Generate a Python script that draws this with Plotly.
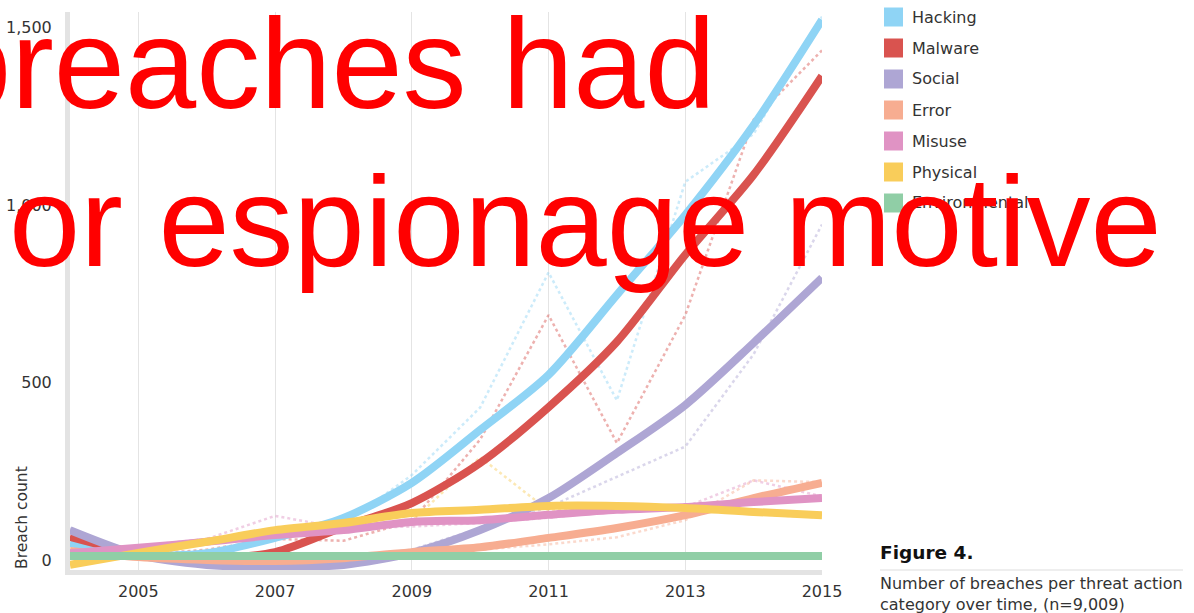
import plotly.graph_objects as go

years = list(range(2004, 2016))
categories = ["Hacking", "Malware", "Social", "Error", "Misuse", "Physical", "Environmental"]
colors = ["#8fd4f5", "#d9534f", "#aea6d4", "#f7ad91", "#e093c4", "#f9cd5a", "#90cea6"]

# smoothed trend lines (thick)
trend_hacking = [49, 15, 20, 63, 119, 218, 367, 522, 747, 972, 1225, 1521]
trend_malware = [66, 20, 6, 23, 94, 161, 274, 431, 615, 860, 1085, 1363]
trend_social = [85, 15, -13, -19, -13, 21, 85, 175, 302, 437, 612, 795]
trend_error = [26, 9, 1, -2, 6, 23, 37, 63, 91, 127, 175, 218]
trend_misuse = [20, 35, 52, 71, 85, 108, 113, 128, 142, 150, 164, 175]
trend_physical = [-13, 21, 52, 85, 105, 133, 142, 153, 153, 147, 136, 127]
trend_environmental = [12, 12, 12, 12, 12, 12, 12, 12, 12, 12, 12, 12]

# actual yearly counts (thin dotted)
actual_hacking = [45, 15, 25, 60, 100, 240, 430, 810, 450, 1065, 1200, 1530]
actual_malware = [66, 15, 30, 60, 55, 110, 340, 690, 330, 690, 1240, 1435]
actual_social = [90, 10, 5, 5, 10, 30, 90, 150, 235, 320, 580, 945]
actual_error = [25, 10, 5, 5, 10, 15, 30, 45, 65, 113, 225, 220]
actual_misuse = [20, 40, 60, 125, 90, 95, 105, 120, 140, 150, 225, 180]
actual_physical = [5, 25, 50, 80, 100, 110, 290, 140, 150, 150, 130, 120]
actual_environmental = [12, 12, 12, 12, 12, 12, 12, 12, 12, 12, 12, 12]

trends = [trend_hacking, trend_malware, trend_social, trend_error, trend_misuse, trend_physical, trend_environmental]
actuals = [actual_hacking, actual_malware, actual_social, actual_error, actual_misuse, actual_physical, actual_environmental]

x_ticks = [2005, 2007, 2009, 2011, 2013, 2015]
y_ticks = [0, 500, 1000, 1500]
y_tick_text = ["0", "500", "1,000", "1,500"]

W, H = 1194, 613
L, R, T, B = 70, 822, 12, 570

def px(xp):
    return (xp - L) / (R - L)

def py(yp):
    return (B - yp) / (B - T)

fig = go.Figure()
for name, col, vals in zip(categories, colors, actuals):
    fig.add_trace(go.Scatter(x=years, y=vals, mode="lines", name=name + " actual",
                             line=dict(color=col, width=2.5, dash="dot"), opacity=0.45,
                             showlegend=False, hoverinfo="skip"))
for name, col, vals in zip(categories, colors, trends):
    fig.add_trace(go.Scatter(x=years, y=vals, mode="lines", name=name,
                             line=dict(color=col, width=8, shape="spline", smoothing=0.8),
                             showlegend=False))

tick_font = dict(family="DejaVu Sans", size=16, color="#333333")
fig.update_xaxes(range=[2004, 2015], tickvals=x_ticks, ticktext=[str(v) for v in x_ticks],
                 showgrid=True, gridcolor="#e4e4e4", gridwidth=1, zeroline=False,
                 showline=True, linecolor="#e3e3e3", linewidth=5, ticks="", automargin=False,
                 tickfont=tick_font, ticklabelstandoff=3)
fig.update_yaxes(range=[-27.3, 1543], tickvals=y_ticks, ticktext=y_tick_text,
                 showgrid=False, zeroline=False, showline=True, linecolor="#e3e3e3",
                 linewidth=5, ticks="", automargin=False, tickfont=tick_font, ticklabelstandoff=10)

annotations = []
shapes = []
# y axis title
annotations.append(dict(text="Breach count", x=px(22), y=py(518), xref="paper", yref="paper",
                        showarrow=False, textangle=-90, xanchor="center", yanchor="middle",
                        font=dict(family="DejaVu Sans", size=15.5, color="#333333")))
# manual legend
for i, (name, col) in enumerate(zip(categories, colors)):
    cy = 17 + i * 31
    shapes.append(dict(type="rect", xref="paper", yref="paper",
                       x0=px(884), x1=px(903), y0=py(cy - 9.5), y1=py(cy + 9.5),
                       fillcolor=col, line=dict(width=0)))
    annotations.append(dict(text=name, x=px(910), y=py(cy), xref="paper", yref="paper",
                            showarrow=False, xanchor="left", yanchor="middle",
                            font=dict(family="DejaVu Sans", size=16, color="#333333")))
# caption
annotations.append(dict(text="<b>Figure 4.</b>", x=px(878), y=py(552), xref="paper", yref="paper",
                        showarrow=False, xanchor="left", yanchor="middle",
                        font=dict(family="DejaVu Sans", size=18.5, color="#111111")))
shapes.append(dict(type="line", xref="paper", yref="paper", x0=px(880), x1=px(1183),
                   y0=py(570), y1=py(570), line=dict(color="#dddddd", width=1)))
annotations.append(dict(text="Number of breaches per threat action", x=px(878), y=py(583),
                        xref="paper", yref="paper", showarrow=False, xanchor="left", yanchor="middle",
                        font=dict(family="DejaVu Sans", size=16, color="#333333")))
annotations.append(dict(text="category over time, (n=9,009)", x=px(878), y=py(604),
                        xref="paper", yref="paper", showarrow=False, xanchor="left", yanchor="middle",
                        font=dict(family="DejaVu Sans", size=16, color="#333333")))
# red overlay text
red_font = dict(family="Liberation Sans", size=128, color="#ff0000")
annotations.append(dict(text="breaches had", x=px(718), y=py(64), xref="paper", yref="paper",
                        showarrow=False, xanchor="right", yanchor="middle", font=red_font))
annotations.append(dict(text="or espionage motive", x=px(7), y=py(221), xref="paper", yref="paper",
                        showarrow=False, xanchor="left", yanchor="middle", font=red_font))

fig.update_layout(width=W, height=H, margin=dict(l=L, r=W - R, t=T, b=H - B),
                  paper_bgcolor="white", plot_bgcolor="white",
                  annotations=annotations, shapes=shapes, showlegend=False)
fig.write_html("out.html", config={"displayModeBar": False},
               post_script="document.body.style.margin='0px';document.body.style.overflow='hidden';")
